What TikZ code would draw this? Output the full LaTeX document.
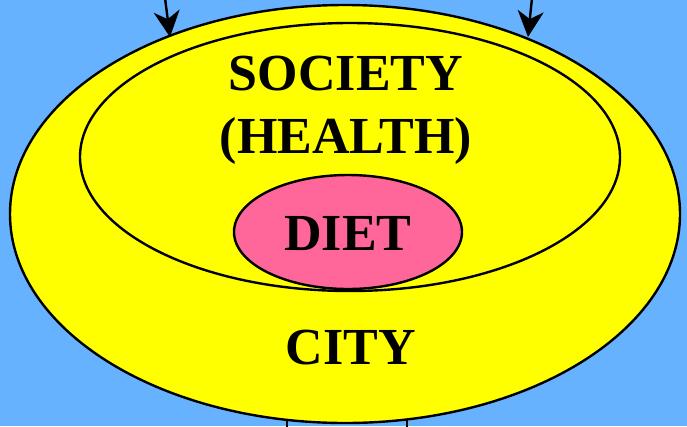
\documentclass[tikz,border=0pt]{standalone}
\usepackage{fontspec}
\setmainfont{Liberation Serif}
\usetikzlibrary{shapes.geometric, arrows.meta}

\definecolor{skyblue}{RGB}{102,178,255}
\definecolor{cityyellow}{RGB}{255,255,0}
\definecolor{dietpink}{RGB}{255,102,153}

\tikzset{
    ring/.style={ellipse, draw, line width=2.4pt, inner sep=0pt},
    lbl/.style={font=\fontsize{52}{60}\selectfont\bfseries, align=center},
    feed/.style={line width=2.4pt, -{Stealth[length=26pt, width=26pt, inset=8pt]}}
}

\begin{document}
\begin{tikzpicture}[x=1pt, y=-1pt]
    % Background
    \fill[skyblue] (0,0) rectangle (687,426);
    \useasboundingbox (0,0) rectangle (687,426);

    % Ellipses
    \node[ring, fill=cityyellow, minimum width=670pt, minimum height=418pt] (city) at (345,214) {};
    \node[ring, minimum width=540pt, minimum height=268pt] (society) at (350,157) {};
    \node[ring, fill=dietpink, minimum width=228pt, minimum height=114pt] (diet) at (348,232) {};

    % Labels
    \node[lbl] (soclbl) at (346,110) {SOCIETY\\[3pt](HEALTH)};
    \node[lbl] (dietlbl) at (348,234) {DIET};
    \node[lbl] (citylbl) at (351,348) {CITY};

    % Incoming arrows
    \coordinate (inleft) at (165,-2);
    \coordinate (inright) at (532,-2);
    \coordinate (hitleft) at (170,37);
    \coordinate (hitright) at (528,37);
    \draw[feed] (inleft) -- (hitleft);
    \draw[feed] (inright) -- (hitright);

    % Outgoing stubs
    \coordinate (outleft) at (287,428);
    \coordinate (outright) at (407,428);
    \draw[line width=2.4pt] (287,420) -- (outleft);
    \draw[line width=2.4pt] (407,420) -- (outright);
\end{tikzpicture}
\end{document}
